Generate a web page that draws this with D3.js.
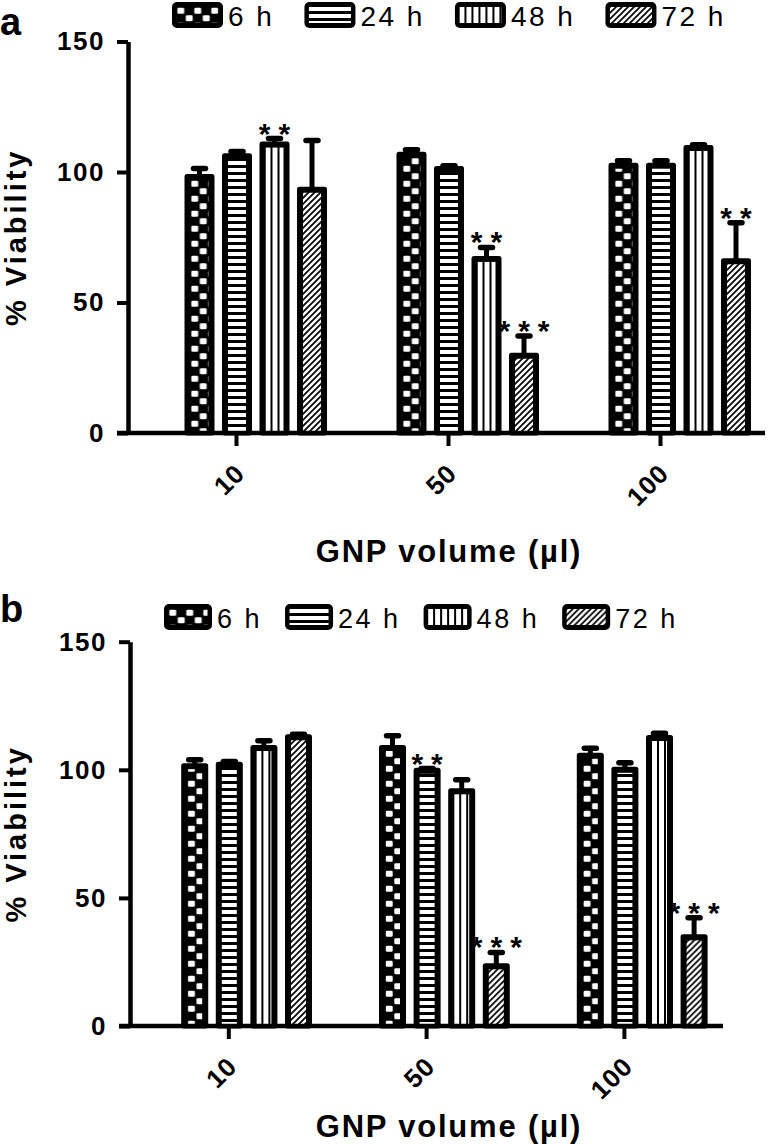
<!DOCTYPE html>
<html><head><meta charset="utf-8">
<script src="https://cdn.jsdelivr.net/npm/d3@7"></script>
<style>body{margin:0;background:#fff}svg{display:block}</style>
</head><body>
<script>
// ---------- data ----------
const categories = ["10", "50", "100"];
const series = ["6 h", "24 h", "48 h", "72 h"];
const yTicks = [0, 50, 100, 150];

// panel a : values, SEM, significance
const a6h  = [98.3, 106.8, 102.6];
const a24h = [106.2, 101.3, 102.6];
const a48h = [110.7, 66.9, 109.4];
const a72h = [93.4, 29.8, 66.0];
const aErr6h  = [3.0, 1.7, 1.7];
const aErr24h = [1.7, 1.1, 1.7];
const aErr48h = [2.1, 4.2, 1.0];
const aErr72h = [18.7, 7.4, 14.6];
const aSig6h  = ["", "", ""];
const aSig24h = ["", "", ""];
const aSig48h = ["**", "**", ""];
const aSig72h = ["", "***", "**"];

// panel b
const b6h  = [101.6, 108.7, 105.7];
const b24h = [102.2, 99.8, 100.2];
const b48h = [108.7, 91.8, 112.6];
const b72h = [112.9, 23.5, 34.8];
const bErr6h  = [2.3, 4.6, 2.7];
const bErr24h = [1.0, 0.7, 2.6];
const bErr48h = [2.6, 4.3, 1.7];
const bErr72h = [1.0, 5.2, 7.5];
const bSig6h  = ["", "", ""];
const bSig24h = ["", "**", ""];
const bSig48h = ["", "", ""];
const bSig72h = ["", "***", "***"];

const xTitle = "GNP volume (\u00b5l)";
const yTitle = "% Viability";

// ---------- helpers ----------
function buildRows(vals, errs, sigs) {
  const rows = [];
  series.forEach((s, j) => categories.forEach((c, i) => {
    rows.push({ s, j, c, v: vals[j][i], e: errs[j][i], sig: sigs[j][i] });
  }));
  return rows;
}

const W = 768, H = 1144;
const svg = d3.select("body").append("svg").attr("width", W).attr("height", H)
  .attr("font-family", "'Liberation Sans', Arial, Helvetica, sans-serif");
svg.append("rect").attr("width", W).attr("height", H).attr("fill", "#fff");
const defs = svg.append("defs");
let pid = 0;

function addPattern(kind, ox, oy) {
  const id = "pat" + (pid++);
  const p = defs.append("pattern").attr("id", id).attr("patternUnits", "userSpaceOnUse")
    .attr("x", ox).attr("y", oy);
  if (kind === 0) {
    const c = 8.5, r = 7.5;
    p.attr("width", 2 * c).attr("height", 2 * r);
    p.append("rect").attr("width", 2 * c).attr("height", 2 * r).attr("fill", "#000");
    p.append("rect").attr("x", 0.8).attr("y", 0.8).attr("width", c - 1.6).attr("height", r - 1.6).attr("rx", 1.3).attr("fill", "#fff");
    p.append("rect").attr("x", c + 0.8).attr("y", r + 0.8).attr("width", c - 1.6).attr("height", r - 1.6).attr("rx", 1.3).attr("fill", "#fff");
  } else if (kind === 1) {
    p.attr("width", 10).attr("height", 7);
    p.append("rect").attr("width", 10).attr("height", 7).attr("fill", "#000");
    p.append("rect").attr("width", 10).attr("height", 4).attr("fill", "#fff");
  } else if (kind === 2) {
    p.attr("width", 7).attr("height", 10);
    p.append("rect").attr("width", 7).attr("height", 10).attr("fill", "#fff");
    p.append("rect").attr("x", 5).attr("width", 2).attr("height", 10).attr("fill", "#000");
  } else {
    p.attr("width", 6).attr("height", 6);
    p.append("rect").attr("width", 6).attr("height", 6).attr("fill", "#fff");
    p.append("path").attr("d", "M-1,1 L1,-1 M0,6 L6,0 M5,7 L7,5")
      .attr("stroke", "#000").attr("stroke-width", 1.7);
  }
  return "url(#" + id + ")";
}

function drawPanel(cfg) {
  const g = svg.append("g");
  const y = d3.scaleLinear().domain([0, 150]).range([cfg.y0, cfg.y150]);
  const x0 = d3.scaleBand().domain(categories).range(cfg.xr).paddingInner(cfg.gPad).paddingOuter(0);
  const x1 = d3.scaleBand().domain(series).range([0, x0.bandwidth()]).paddingInner(cfg.bPad).paddingOuter(0);
  const bw = x1.bandwidth();
  const rows = cfg.rows;

  // bars
  const bars = g.append("g").selectAll("g").data(rows).join("g");
  bars.append("rect")
    .attr("x", d => x0(d.c) + x1(d.s)).attr("y", d => y(d.v))
    .attr("width", bw).attr("height", d => y(0) - y(d.v))
    .attr("fill", "#000").attr("stroke", "#000").attr("stroke-width", 5)
    .attr("stroke-linejoin", "round");
  bars.append("rect")
    .attr("x", d => x0(d.c) + x1(d.s) + 3.5).attr("y", d => y(d.v) + 3.5)
    .attr("width", bw - 7).attr("height", d => y(0) - y(d.v) - 3.5)
    .attr("fill", d => addPattern(d.j, x0(d.c) + x1(d.s) + 3.5, 0));

  // error bars
  const eb = g.append("g").selectAll("g").data(rows).join("g")
    .attr("stroke", "#000").attr("stroke-linecap", "round");
  eb.append("line")
    .attr("x1", d => x0(d.c) + x1(d.s) + bw / 2).attr("x2", d => x0(d.c) + x1(d.s) + bw / 2)
    .attr("y1", d => y(d.v)).attr("y2", d => y(d.v + d.e)).attr("stroke-width", 5)
    .attr("stroke-linecap", "butt");
  eb.append("line")
    .attr("x1", d => x0(d.c) + x1(d.s) + bw / 2 - 6).attr("x2", d => x0(d.c) + x1(d.s) + bw / 2 + 6)
    .attr("y1", d => y(d.v + d.e)).attr("y2", d => y(d.v + d.e)).attr("stroke-width", 5.5);

  // significance
  g.append("g").selectAll("text").data(rows.filter(d => d.sig)).join("text")
    .attr("x", d => x0(d.c) + x1(d.s) + bw / 2 + 4)
    .attr("y", d => y(d.v + d.e) + 5)
    .attr("text-anchor", "middle").attr("font-weight", "bold").attr("font-size", 30)
    .attr("letter-spacing", 8)
    .text(d => d.sig);

  // y axis
  const yAxis = g.append("g").attr("transform", `translate(${cfg.axisX},0)`)
    .call(d3.axisLeft(y).tickValues(yTicks).tickSize(11).tickSizeOuter(0).tickPadding(12));
  yAxis.select(".domain").attr("stroke-width", 4.5);
  yAxis.selectAll(".tick line").attr("stroke-width", 4);
  yAxis.selectAll(".tick text").attr("font-size", 26).attr("font-weight", "bold")
    .attr("font-family", "'Liberation Sans', Arial, sans-serif").attr("letter-spacing", 1.5).attr("fill", "#000");

  // x axis
  const tickScale = d3.scaleOrdinal(categories, categories.map(c => x0(c) + x1(series[1]) + bw / 2 - 1));
  const xAxis = g.append("g").attr("transform", `translate(0,${cfg.y0})`)
    .call(d3.axisBottom(tickScale).tickSize(13).tickSizeOuter(0));
  xAxis.select(".domain").remove();
  xAxis.append("line").attr("x1", cfg.axisX - 11).attr("x2", cfg.xEnd)
    .attr("stroke", "#000").attr("stroke-width", 4.5);
  xAxis.selectAll(".tick line").attr("stroke-width", 4);
  xAxis.selectAll(".tick text").attr("font-size", 26).attr("font-weight", "bold")
    .attr("font-family", "'Liberation Sans', Arial, sans-serif").attr("fill", "#000")
    .attr("letter-spacing", 1)
    .attr("y", 0).attr("dy", 0).attr("text-anchor", "end")
    .attr("transform", "translate(10,42) rotate(-45)");

  // titles
  g.append("text").attr("x", 449).attr("y", cfg.titleY).attr("text-anchor", "middle")
    .attr("font-weight", "bold").attr("font-size", 31).attr("letter-spacing", 1.8).text(xTitle);
  g.append("text").attr("transform", `translate(26,${(cfg.y0 + cfg.y150) / 2}) rotate(-90)`)
    .attr("text-anchor", "middle").attr("font-weight", "bold").attr("font-size", 29)
    .attr("letter-spacing", 3).text(yTitle);
  g.append("text").attr("x", 0).attr("y", cfg.labelY).attr("font-weight", "bold")
    .attr("font-size", 38).text(cfg.label);

  // legend
  const lg = g.append("g");
  let lx = cfg.legendX;
  series.forEach((s, j) => {
    lg.append("rect").attr("x", lx).attr("y", cfg.legendY).attr("width", cfg.swW).attr("height", cfg.swH)
      .attr("rx", 5).attr("fill", "#000");
    lg.append("rect").attr("x", lx + 4.5).attr("y", cfg.legendY + 5).attr("width", cfg.swW - 9).attr("height", cfg.swH - 10)
      .attr("fill", addPattern(j, lx + 4.5, cfg.legendY + 5));
    const t = lg.append("text").attr("x", lx + cfg.swW + 5).attr("y", cfg.legBase)
      .attr("font-size", cfg.legFont).attr("letter-spacing", 2.5).text(s);
    lx = lx + cfg.swW + 5 + t.node().getComputedTextLength() + cfg.legGap;
  });
}

drawPanel({
  rows: buildRows([a6h, a24h, a48h, a72h], [aErr6h, aErr24h, aErr48h, aErr72h], [aSig6h, aSig24h, aSig48h, aSig72h]),
  y0: 433, y150: 41.5, xr: [187, 748.5], gPad: 0.3514, bPad: 1 / 3,
  axisX: 128, xEnd: 765, legendX: 172, legendY: 2, swW: 51, swH: 26, legFont: 28, legBase: 26, legGap: 30,
  label: "a", labelY: 35, titleY: 562
});
drawPanel({
  rows: buildRows([b6h, b24h, b48h, b72h], [bErr6h, bErr24h, bErr48h, bErr72h], [bSig6h, bSig24h, bSig48h, bSig72h]),
  y0: 1026, y150: 641.7, xr: [183.7, 705.1], gPad: 0.364, bPad: 0.364,
  axisX: 130, xEnd: 723, legendX: 164, legendY: 604, swW: 48, swH: 26, legFont: 27, legBase: 628, legGap: 23,
  label: "b", labelY: 622, titleY: 1137
});
</script>
</body></html>
